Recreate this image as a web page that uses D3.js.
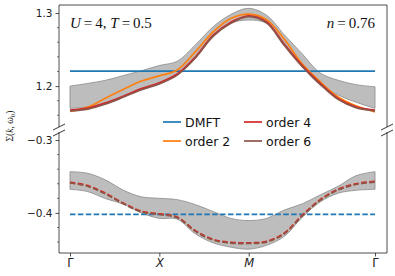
<!DOCTYPE html>
<html>
<head>
<meta charset="utf-8">
<script src="https://cdn.jsdelivr.net/npm/d3@7"></script>
<style>
  body { margin: 0; background: #fff; }
  text { font-family: "DejaVu Sans", sans-serif; }
  .math { font-family: "Liberation Serif", "DejaVu Serif", serif; }
</style>
</head>
<body>
<svg id="chart"></svg>
<script>
// path position along Γ–X–M–Γ (Γ-X = 1, X-M = 1, M-Γ = √2)
const tPts = [0, 0.2, 0.4, 0.6, 0.8, 1.0, 1.2, 1.4, 1.6, 1.8, 2.0, 2.2, 2.4, 2.6, 2.8, 3.0, 3.2, 3.414];
const kTicks = [0, 1, 2, 3.414];
const kLabels = ['Γ', 'X', 'M', 'Γ'];

// upper panel (real part)
const upDMFT = 1.2205;
const upBandTop = [1.200, 1.2037, 1.208, 1.2145, 1.221, 1.2282, 1.234, 1.256, 1.281, 1.298, 1.3064, 1.297, 1.270, 1.244, 1.218, 1.208, 1.202, 1.199];
const upBandBot = [1.1695, 1.1715, 1.177, 1.186, 1.1955, 1.204, 1.216, 1.238, 1.267, 1.286, 1.2904, 1.286, 1.259, 1.227, 1.2015, 1.1877, 1.178, 1.1695];
const upOrder2 = [1.1655, 1.1712, 1.1838, 1.1958, 1.207, 1.214, 1.222, 1.2465, 1.274, 1.2925, 1.2986, 1.291, 1.264, 1.230, 1.206, 1.185, 1.173, 1.1648];
const upOrder4 = [1.167, 1.1698, 1.177, 1.1865, 1.1965, 1.2045, 1.2165, 1.2395, 1.2695, 1.2875, 1.2963, 1.288, 1.257, 1.228, 1.204, 1.183, 1.1715, 1.167];
const upOrder6 = [1.166, 1.1685, 1.1755, 1.185, 1.195, 1.203, 1.215, 1.238, 1.268, 1.286, 1.295, 1.2865, 1.2555, 1.2265, 1.2025, 1.1818, 1.1705, 1.1662];

// lower panel (imaginary part)
const loDMFT = -0.402;
const loBandTop = [-0.3434, -0.3457, -0.355, -0.369, -0.378, -0.380, -0.3818, -0.3885, -0.398, -0.4075, -0.4105, -0.4075, -0.396, -0.3875, -0.3753, -0.3635, -0.349, -0.3434];
const loBandBot = [-0.3676, -0.3708, -0.3805, -0.388, -0.400, -0.4075, -0.4085, -0.4285, -0.441, -0.447, -0.4497, -0.4445, -0.432, -0.406, -0.385, -0.373, -0.369, -0.3676];
const loOrder2 = [-0.3585, -0.363, -0.3735, -0.387, -0.398, -0.4016, -0.406, -0.4245, -0.4368, -0.4408, -0.4415, -0.4395, -0.428, -0.4035, -0.3822, -0.368, -0.3605, -0.357];
const loOrder4 = [-0.358, -0.3625, -0.3732, -0.3868, -0.3978, -0.4013, -0.4058, -0.424, -0.4362, -0.4403, -0.441, -0.439, -0.4276, -0.403, -0.3818, -0.3676, -0.36, -0.3566];
const loOrder6 = [-0.359, -0.3636, -0.3742, -0.3876, -0.3986, -0.4022, -0.4066, -0.425, -0.4372, -0.4414, -0.442, -0.44, -0.4286, -0.404, -0.3828, -0.3686, -0.361, -0.3576];

const upTicks = [1.2, 1.3];
const loTicks = [-0.4, -0.3];

const legendItems = [
  {name: 'DMFT', color: '#1f77b4'},
  {name: 'order 2', color: '#ff7f0e'},
  {name: 'order 4', color: '#d62728'},
  {name: 'order 6', color: '#8c564b'}
];

(function(){
  const W = 395, H = 276;
  const svg = d3.select('#chart').attr('width', W).attr('height', H);

  const L = 59, R = 387;
  const x = d3.scaleLinear().domain([-0.123, 3.548]).range([L, R]);
  const yUp = d3.scaleLinear().domain([1.144, 1.311]).range([127, 5]);
  const yLo = d3.scaleLinear().domain([-0.455, -0.289]).range([253, 132]);
  const curve = d3.curveCatmullRom.alpha(0.5);

  function panel(y, bandTop, bandBot, dmft, series, dash, ticks, fmt){
    const g = svg.append('g');
    const [y0, y1] = y.range();

    // ---- band ----
    const area = d3.area()
      .x((d, i) => x(tPts[i]))
      .y0((d, i) => y(bandBot[i]))
      .y1(d => y(d))
      .curve(curve);
    g.append('path').datum(bandTop)
      .attr('d', area)
      .attr('fill', '#bdbdbd')
      .attr('stroke', '#8a8a8a')
      .attr('stroke-width', 0.8);

    // DMFT reference
    g.append('line')
      .attr('x1', x(0)).attr('x2', x(3.414))
      .attr('y1', y(dmft)).attr('y2', y(dmft))
      .attr('stroke', legendItems[0].color)
      .attr('stroke-width', 1.6)
      .attr('stroke-dasharray', dash);

    const line = d3.line()
      .x((d, i) => x(tPts[i]))
      .y(d => y(d))
      .curve(curve);
    series.forEach((s, i) => {
      g.append('path').datum(s)
        .attr('d', line)
        .attr('fill', 'none')
        .attr('stroke', legendItems[i + 1].color)
        .attr('stroke-width', 1.7)
        .attr('stroke-dasharray', dash);
    });

    // ---- y axis with minor ticks ----
    const minor = d3.range(-0.50, 1.40, 0.02).map(v => +v.toFixed(2))
      .filter(v => v >= y.domain()[0] && v <= y.domain()[1] && !ticks.includes(v));
    const ax = svg.append('g').attr('transform', `translate(${L},0)`);
    ax.call(d3.axisLeft(y).tickValues(ticks).tickSize(3.5).tickPadding(3).tickFormat(fmt));
    ax.call(a => a.select('.domain').remove());
    ax.selectAll('text').attr('font-size', 10.5).attr('fill', '#222').attr('font-family', '"DejaVu Sans", sans-serif');
    ax.selectAll('.tick line').attr('stroke', '#222').attr('stroke-width', 0.8);
    ax.selectAll('line.minor').data(minor).join('line')
      .attr('class', 'minor')
      .attr('x1', -2).attr('x2', 0)
      .attr('y1', d => y(d)).attr('y2', d => y(d))
      .attr('stroke', '#222').attr('stroke-width', 0.6);

    // side spines
    [L, R].forEach(sx => {
      svg.append('line')
        .attr('x1', sx).attr('x2', sx).attr('y1', y0).attr('y2', y1)
        .attr('stroke', '#222').attr('stroke-width', 0.8);
    });
    return g;
  }

  panel(yUp, upBandTop, upBandBot, upDMFT, [upOrder2, upOrder4, upOrder6], null, upTicks, d3.format('.1f'));
  panel(yLo, loBandTop, loBandBot, loDMFT, [loOrder2, loOrder4, loOrder6], '5.5,2.4', loTicks, d => d3.format('.1f')(d).replace('-', '\u2212'));

  // top spine
  svg.append('line').attr('x1', L).attr('x2', R).attr('y1', 5).attr('y2', 5)
    .attr('stroke', '#222').attr('stroke-width', 0.8);

  // ---- x axis ----
  const xa = svg.append('g').attr('transform', 'translate(0,253)');
  xa.call(d3.axisBottom(x).tickValues(kTicks).tickSize(3.5).tickPadding(2).tickFormat((d, i) => kLabels[i]));
  xa.select('.domain').attr('d', `M${L},0H${R}`).attr('stroke', '#222').attr('stroke-width', 0.8);
  xa.selectAll('.tick line').attr('stroke', '#222').attr('stroke-width', 0.8);
  xa.selectAll('text')
    .attr('font-family', '"Liberation Serif", "DejaVu Serif", serif')
    .attr('font-size', 11.5).attr('fill', '#222')
    .attr('font-style', (d, i) => (i === 1 || i === 2) ? 'italic' : 'normal');

  // ---- break marks ----
  [L, R].forEach(bx => {
    [127, 133].forEach(by => {
      svg.append('line')
        .attr('x1', bx - 6).attr('y1', by + 3)
        .attr('x2', bx + 6).attr('y2', by - 3)
        .attr('stroke', '#222').attr('stroke-width', 0.9);
    });
  });

  // ---- annotations ----
  const ann = svg.append('text').attr('class', 'math')
    .attr('x', 70).attr('y', 28).attr('font-size', 15).attr('fill', '#111');
  ann.append('tspan').attr('font-style', 'italic').text('U');
  ann.append('tspan').text('\u2009=\u20094, ');
  ann.append('tspan').attr('font-style', 'italic').text('T');
  ann.append('tspan').text('\u2009=\u20090.5');

  const ann2 = svg.append('text').attr('class', 'math')
    .attr('x', 375).attr('y', 28).attr('font-size', 15).attr('fill', '#111')
    .attr('text-anchor', 'end');
  ann2.append('tspan').attr('font-style', 'italic').text('n');
  ann2.append('tspan').text('\u2009=\u20090.76');

  // y label
  const yl = svg.append('text').attr('class', 'math')
    .attr('transform', 'translate(13,126) rotate(-90)')
    .attr('text-anchor', 'middle')
    .attr('font-size', 9.5).attr('fill', '#222');
  yl.append('tspan').text('Σ(');
  yl.append('tspan').attr('font-style', 'italic').text('k');
  yl.append('tspan').text(', ');
  yl.append('tspan').attr('font-style', 'italic').text('ω');
  yl.append('tspan').attr('font-size', 7).attr('dy', 2).text('0');
  yl.append('tspan').attr('dy', -2).text(')');

  // ---- legend ----
  const lg = svg.append('g');
  const pos = [[163, 122], [163, 141], [244, 122], [244, 141]];
  legendItems.forEach((d, i) => {
    const [lx, ly] = pos[i];
    lg.append('line')
      .attr('x1', lx).attr('x2', lx + 18).attr('y1', ly).attr('y2', ly)
      .attr('stroke', d.color).attr('stroke-width', 1.7);
    lg.append('text')
      .attr('x', lx + 22).attr('y', ly).attr('dy', '0.36em')
      .attr('font-size', 12.5).attr('fill', '#111')
      .text(d.name);
  });
})();
</script>
</body>
</html>
